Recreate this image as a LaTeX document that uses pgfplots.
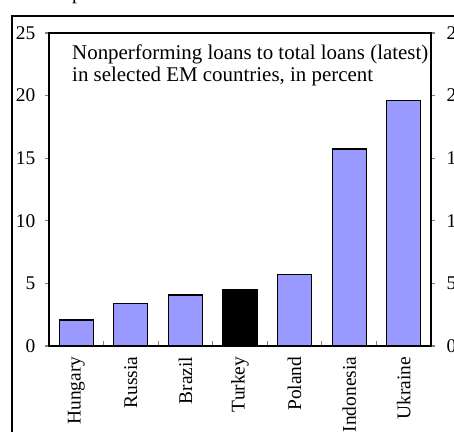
\documentclass[border=0pt]{standalone}
\usepackage{pgfplots}
\pgfplotsset{compat=1.18}
\usepackage{fontspec}
\setmainfont{Liberation Serif}
\definecolor{barblue}{RGB}{153,153,255}
\begin{document}
\fontsize{19.5}{22.5}\selectfont
\begin{tikzpicture}[x=1bp,y=1bp]
\clip (0,0) rectangle (454,431);
\draw[line width=1.5bp] (12,-5) -- (12,415) -- (470,415);
\node[anchor=base,inner sep=0,font=\fontsize{20}{22}\selectfont] at (77,431) {p};
\pgfplotsset{myax/.style={
  at={(49bp,85bp)}, anchor=south west, scale only axis,
  width=382bp, height=313bp,
  xmin=-0.5, xmax=6.5, ymin=0, ymax=25,
  axis line style={line width=1.3bp},
  /pgf/number format/assume math mode=true,
  tick label style={font=\fontsize{19.5}{22}\selectfont},
}}
\begin{axis}[myax,
  ytick=\empty,
  xtick={0,...,6},
  xticklabels={Hungary,Russia,Brazil,Turkey,Poland,Indonesia,Ukraine},
  major x tick style={draw=none},
  major tick length=0pt,
  minor xtick={0.5,1.5,...,5.5},
  minor tick length=5bp,
  minor x tick style={line width=1.2bp},
  tick align=inside,
  xtick pos=bottom,
  x tick label style={rotate=90,anchor=east},
  xticklabel shift=4bp,
]
\addplot[ybar, bar shift=0pt, bar width=34bp, fill=barblue, draw=black, line width=1.2bp]
  coordinates {(0,2.08) (1,3.41) (2,4.07) (4,5.73) (5,15.74) (6,19.6)};
\addplot[ybar, bar shift=0pt, bar width=34bp, fill=black, draw=black, line width=1.2bp]
  coordinates {(3,4.47)};
\end{axis}
\begin{axis}[myax,
  xtick=\empty,
  ytick={0,5,...,25},
  ytick pos=left,
  tick align=outside,
  major tick length=4bp,
  y tick style={line width=1.2bp},
  yticklabel style={xshift=-3bp},
]
\end{axis}
\begin{axis}[myax,
  xtick=\empty,
  ytick={0,5,...,25},
  ytick pos=right,
  yticklabel pos=right,
  tick align=outside,
  major tick length=4bp,
  y tick style={line width=1.2bp},
  yticklabel style={xshift=5bp},
]
\end{axis}
\node[anchor=base west,inner sep=0,font=\fontsize{21}{23}\selectfont] at (72,372) {Nonperforming loans to total loans (latest)};
\node[anchor=base west,inner sep=0,font=\fontsize{21}{23}\selectfont] at (72,349.5) {in selected EM countries, in percent};
\end{tikzpicture}
\end{document}
